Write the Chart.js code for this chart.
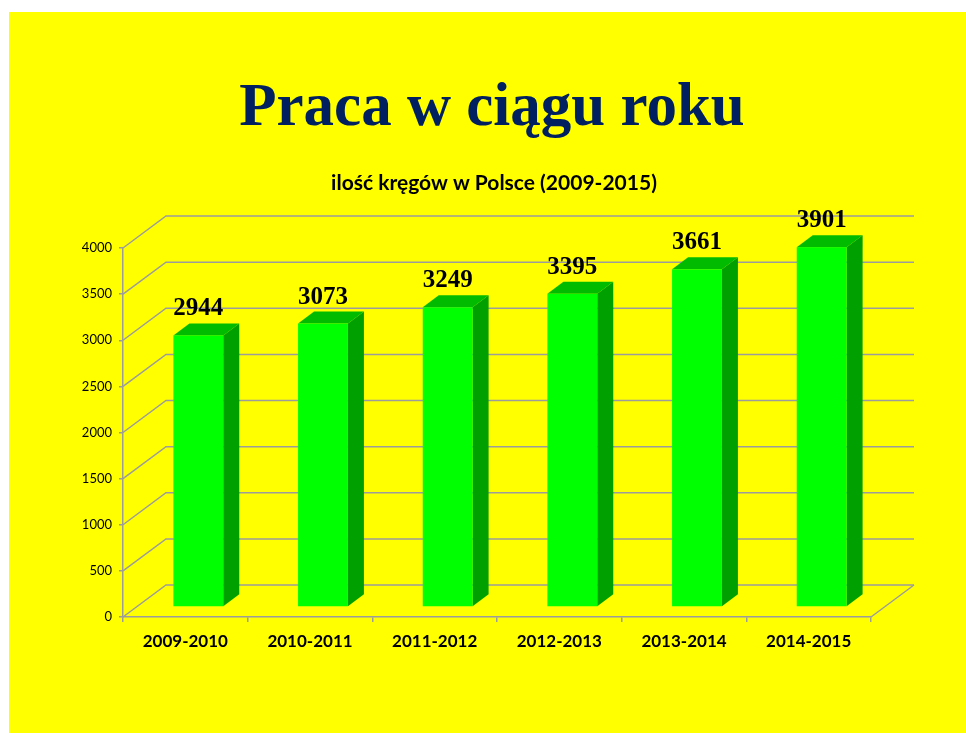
<!DOCTYPE html>
<html><head><meta charset="utf-8">
<script src="https://cdn.jsdelivr.net/npm/chart.js@4.4.0/dist/chart.umd.min.js"></script>
<style>html,body{margin:0;padding:0;background:#fff;overflow:hidden}canvas{display:block}</style>
</head><body>
<canvas id="c" width="966" height="733"></canvas>
<script>
const categories = ['2009-2010', '2010-2011', '2011-2012', '2012-2013', '2013-2014', '2014-2015'];
const values = [2944, 3073, 3249, 3395, 3661, 3901];
const yMin = 0, yMax = 4000, yStep = 500;
const chartTitle = 'Praca w ciągu roku';
const chartSubtitle = 'ilość kręgów w Polsce (2009-2015)';

// styling / 3D projection
const GRID = '#9c9c9c';
const BACK = {dx: 43, dy: -32};   // back wall offset from front plane
const FACE = {dx: 13, dy: -10};   // bar front face offset from front plane
const DEPTH = {dx: 16, dy: -12};  // bar depth

const plugin3d = {
  id: 'plugin3d',
  beforeDraw(chart) {
    const ctx = chart.ctx;
    ctx.save();
    ctx.fillStyle = '#ffffff';
    ctx.fillRect(0, 0, chart.width, chart.height);
    ctx.fillStyle = '#ffff00';
    ctx.fillRect(9, 12, chart.width - 9, chart.height - 12);
    // titles
    ctx.fillStyle = '#002060';
    ctx.textAlign = 'center';
    ctx.textBaseline = 'alphabetic';
    ctx.font = 'bold 61px "Liberation Serif"';
    ctx.fillText(chartTitle, 492, 125);
    ctx.fillStyle = '#000000';
    ctx.font = 'bold 21px Lato';
    ctx.fillText(chartSubtitle, 494, 190);
    ctx.restore();
  },
  beforeDatasetsDraw(chart) {
    const {ctx, scales: {x, y}} = chart;
    ctx.save();
    ctx.strokeStyle = GRID;
    ctx.lineWidth = 1.5;
    y.ticks.forEach(t => {
      const py = y.getPixelForValue(t.value);
      ctx.beginPath();
      ctx.moveTo(x.left, py);
      ctx.lineTo(x.left + BACK.dx, py + BACK.dy);
      ctx.lineTo(x.right + BACK.dx, py + BACK.dy);
      ctx.stroke();
    });
    const p0 = y.getPixelForValue(yMin);
    ctx.beginPath();
    ctx.moveTo(x.right, p0);
    ctx.lineTo(x.right + BACK.dx, p0 + BACK.dy);
    ctx.stroke();
    ctx.restore();
  },
  afterDatasetsDraw(chart) {
    const ctx = chart.ctx;
    const meta = chart.getDatasetMeta(0);
    ctx.save();
    meta.data.forEach((el, i) => {
      const p = el.getProps(['x', 'y', 'base', 'width'], true);
      const l = p.x - p.width / 2 + FACE.dx, r = p.x + p.width / 2 + FACE.dx;
      const t = p.y + FACE.dy, b = p.base + FACE.dy;
      // side
      ctx.fillStyle = '#00a000';
      ctx.beginPath();
      ctx.moveTo(r, t); ctx.lineTo(r + DEPTH.dx, t + DEPTH.dy);
      ctx.lineTo(r + DEPTH.dx, b + DEPTH.dy); ctx.lineTo(r, b);
      ctx.closePath(); ctx.fill();
      // top
      ctx.fillStyle = '#00bb00';
      ctx.beginPath();
      ctx.moveTo(l, t); ctx.lineTo(l + DEPTH.dx, t + DEPTH.dy);
      ctx.lineTo(r + DEPTH.dx, t + DEPTH.dy); ctx.lineTo(r, t);
      ctx.closePath(); ctx.fill();
      // front
      ctx.fillStyle = '#00ff00';
      ctx.fillRect(l, t, r - l, b - t);
      // label
      ctx.fillStyle = '#000000';
      ctx.font = 'bold 25px "Liberation Serif"';
      ctx.textAlign = 'center';
      ctx.textBaseline = 'alphabetic';
      ctx.fillText(String(values[i]), (l + r) / 2, t + DEPTH.dy - 8);
    });
    ctx.restore();
  }
};

new Chart(document.getElementById('c'), {
  type: 'bar',
  data: {
    labels: categories,
    datasets: [{
      data: values,
      backgroundColor: 'rgba(0,0,0,0)',
      borderWidth: 0,
      categoryPercentage: 1.0,
      barPercentage: 0.4
    }]
  },
  options: {
    responsive: false,
    animation: false,
    layout: {padding: {top: 248, right: 95, left: 0, bottom: 0}},
    plugins: {legend: {display: false}, tooltip: {enabled: false}, title: {display: false}},
    scales: {
      x: {
        afterFit(s) { s.height = 116; },
        grid: {offset: true, drawOnChartArea: false, drawTicks: true, tickLength: 5, color: GRID, lineWidth: 1.5},
        border: {color: GRID, width: 1.5},
        ticks: {color: '#000', font: {family: 'Lato', weight: 'bold', size: 17}, padding: 9, maxRotation: 0}
      },
      y: {
        min: yMin, max: yMax,
        afterFit(s) { s.width = 123; },
        grid: {drawOnChartArea: false, drawTicks: true, tickLength: 4, color: GRID, lineWidth: 1.5},
        border: {color: GRID, width: 1.5},
        ticks: {stepSize: yStep, color: '#000', font: {family: 'Lato', size: 13}, padding: 7,
                callback: v => String(v)}
      }
    }
  },
  plugins: [plugin3d]
});
</script>
</body></html>
